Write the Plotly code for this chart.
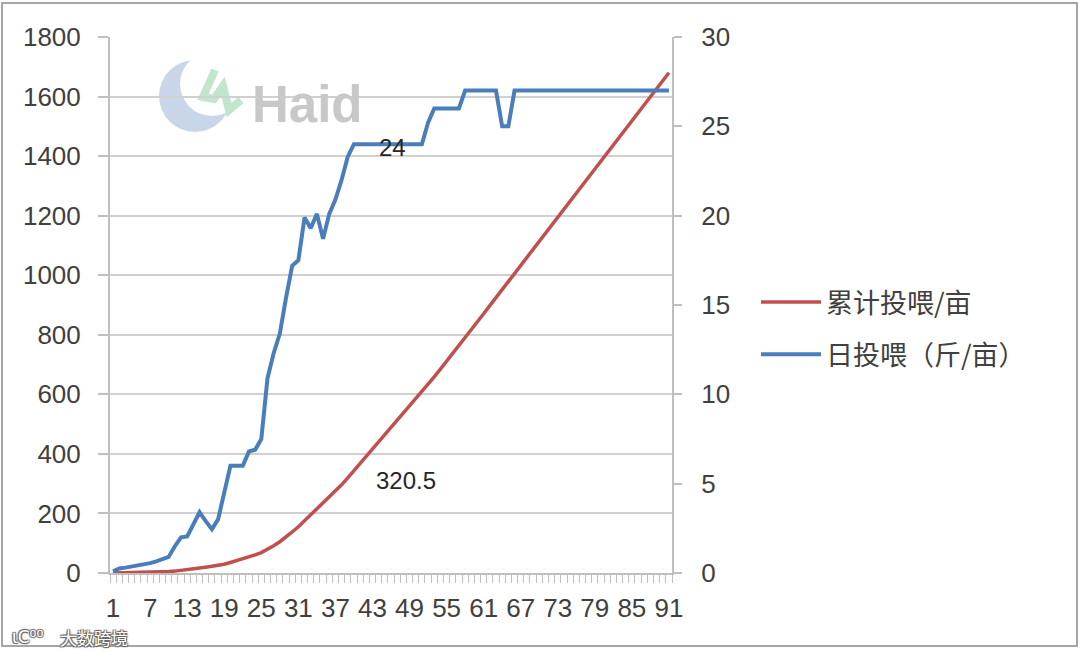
import plotly.graph_objects as go

days = list(range(1, 92))
daily_feed = [0.1, 0.25, 0.3, 0.35, 0.45, 0.5, 0.55, 0.65, 0.75, 0.9,
              1.5, 2.0, 2.05, 2.7, 3.4, 2.9, 2.45, 3.0, 4.5, 6.0,
              6.0, 6.0, 6.8, 6.9, 7.5, 10.9, 12.3, 13.4, 15.4, 17.2,
              17.5, 19.9, 19.3, 20.1, 18.7, 20.1, 20.9, 22.0, 23.3, 24,
              24, 24, 24, 24, 24, 24, 24, 24, 24, 24,
              24, 25.2, 26, 26, 26, 26, 26, 27, 27, 27,
              27, 27, 27, 25, 25, 27, 27, 27, 27, 27,
              27, 27, 27, 27, 27, 27, 27, 27, 27, 27,
              27, 27, 27, 27, 27, 27, 27, 27, 27, 27, 27]
cum_feed = [0.1, 0.4, 0.7, 1.0, 1.5, 2.0, 2.5, 3.2, 3.9, 4.8,
            6.3, 8.3, 10.4, 13.1, 16.5, 19.4, 21.8, 24.8, 29.3, 35.3,
            41.3, 47.3, 54.1, 61.0, 68.5, 79.4, 91.7, 105.1, 120.5, 137.7,
            155.2, 175.1, 194.4, 214.5, 233.2, 253.3, 274.2, 296.2, 319.5, 343.5,
            367.5, 391.5, 415.5, 439.5, 463.5, 487.5, 511.5, 535.5, 559.5, 583.5,
            607.5, 632.7, 658.7, 684.7, 710.7, 736.7, 762.7, 789.7, 816.7, 843.7,
            870.7, 897.7, 924.7, 949.7, 974.7, 1001.7, 1028.7, 1055.7, 1082.7, 1109.7,
            1136.7, 1163.7, 1190.7, 1217.7, 1244.7, 1271.7, 1298.7, 1325.7, 1352.7, 1379.7,
            1406.7, 1433.7, 1460.7, 1487.7, 1514.7, 1541.7, 1568.7, 1595.7, 1622.7, 1649.7, 1680.0]
x_tick_labels = list(range(1, 92, 6))
left_ticks = list(range(0, 1801, 200))
right_ticks = list(range(0, 31, 5))

name_cum = "累计投喂/亩"
name_daily = "日投喂（斤/亩）"

W, H = 1080, 652
L, R, T, B = 110, 672, 37, 573

def px(x):
    return (x - L) / (R - L)

def py(y):
    return (B - y) / (B - T)

fig = go.Figure()
fig.add_trace(go.Scatter(x=days, y=cum_feed, name=name_cum, mode="lines",
                         line=dict(color="#c0504d", width=3.5), legendgroup="a"))
fig.add_trace(go.Scatter(x=days, y=daily_feed, name=name_daily, mode="lines",
                         line=dict(color="#4a7ebb", width=4), yaxis="y2", legendgroup="b"))

tickfont = dict(family="Liberation Sans, Arial", size=26, color="#404040")

fig.update_layout(
    width=W, height=H,
    margin=dict(l=L, r=W - R, t=T, b=H - B),
    paper_bgcolor="white", plot_bgcolor="rgba(0,0,0,0)",
    showlegend=True,
    legend=dict(x=px(756), y=py(278), xanchor="left", yanchor="top",
                font=dict(family="Noto Sans CJK SC", size=27, color="#404040"),
                itemwidth=60, tracegroupgap=14, bgcolor="rgba(0,0,0,0)"),
    xaxis=dict(range=[0.5, 91.5], tickmode="array", tickvals=x_tick_labels,
               ticktext=[str(v) for v in x_tick_labels], tickfont=tickfont,
               ticks="", ticklabelstandoff=11,
               showgrid=False, zeroline=False, showline=True, linecolor="#bfbfbf", linewidth=2,
               minor=dict(ticks="outside", tick0=0.5, dtick=1, ticklen=8,
                          tickcolor="#bfbfbf", tickwidth=1, showgrid=False)),
    yaxis=dict(range=[0, 1800], tickmode="array", tickvals=left_ticks, tickfont=tickfont,
               ticks="outside", ticklen=10, tickcolor="#bfbfbf", tickwidth=2,
               showgrid=True, gridcolor="#d0d0d0", gridwidth=2, zeroline=False,
               showline=True, linecolor="#bfbfbf", linewidth=2, ticklabelstandoff=12),
    yaxis2=dict(range=[0, 30], tickmode="array", tickvals=right_ticks, tickfont=tickfont,
                overlaying="y", side="right", ticks="outside", ticklen=8,
                tickcolor="#bfbfbf", tickwidth=2, showgrid=False, zeroline=False,
                showline=True, linecolor="#bfbfbf", linewidth=2, ticklabelstandoff=14),
)

# watermark logo (drawn below gridlines)
fig.add_shape(type="circle", xref="paper", yref="paper", layer="below",
              x0=px(159), x1=px(231), y0=py(132), y1=py(60),
              fillcolor="#c9d6ea", line_width=0)
fig.add_shape(type="circle", xref="paper", yref="paper", layer="below",
              x0=px(180), x1=px(244), y0=py(116), y1=py(52),
              fillcolor="white", line_width=0)
fig.add_shape(type="path", xref="paper", yref="paper", layer="below",
              path="M {},{} L {},{} L {},{} L {},{} L {},{} L {},{}".format(
                  px(215), py(70), px(203), py(97), px(214), py(99),
                  px(223), py(86), px(229), py(110), px(241), py(100)),
              line=dict(color="#c2e6cc", width=8))
fig.add_annotation(xref="paper", yref="paper", x=px(307), y=py(104), text="<b>Haid</b>",
                   xanchor="center", yanchor="middle",
                   showarrow=False, font=dict(family="Liberation Sans", size=51, color="#c8c8c8"))

# data labels
fig.add_annotation(x=46.3, y=23.8, yref="y2", text="24", showarrow=False,
                   font=dict(family="Liberation Sans", size=24, color="#262626"))
fig.add_annotation(x=48.4, y=309, yref="y", text="320.5", showarrow=False,
                   font=dict(family="Liberation Sans", size=24, color="#262626"))

# bottom-left watermark
wm_shadow = "1px 1px 1px #666, -1px -1px 1px #666, 1px -1px 1px #666, -1px 1px 1px #666"
fig.add_annotation(xref="paper", yref="paper", x=px(10), y=py(637), xanchor="left", yanchor="middle",
                   text="ɩC⁰⁰", showarrow=False,
                   font=dict(family="DejaVu Sans", size=17, color="white", shadow=wm_shadow))
fig.add_annotation(xref="paper", yref="paper", x=px(58), y=py(637), xanchor="left", yanchor="middle",
                   text="大数跨境", showarrow=False,
                   font=dict(family="Noto Sans CJK SC", size=17, color="white", shadow=wm_shadow))

# outer frame
fig.add_shape(type="rect", xref="paper", yref="paper", layer="above",
              x0=px(2), x1=px(1077), y0=py(646), y1=py(3),
              line=dict(color="#a6a6a6", width=2), fillcolor="rgba(0,0,0,0)")

fig.write_html("out.html", config={"displayModeBar": False},
               post_script="document.body.style.margin='0';document.body.style.padding='0';")
